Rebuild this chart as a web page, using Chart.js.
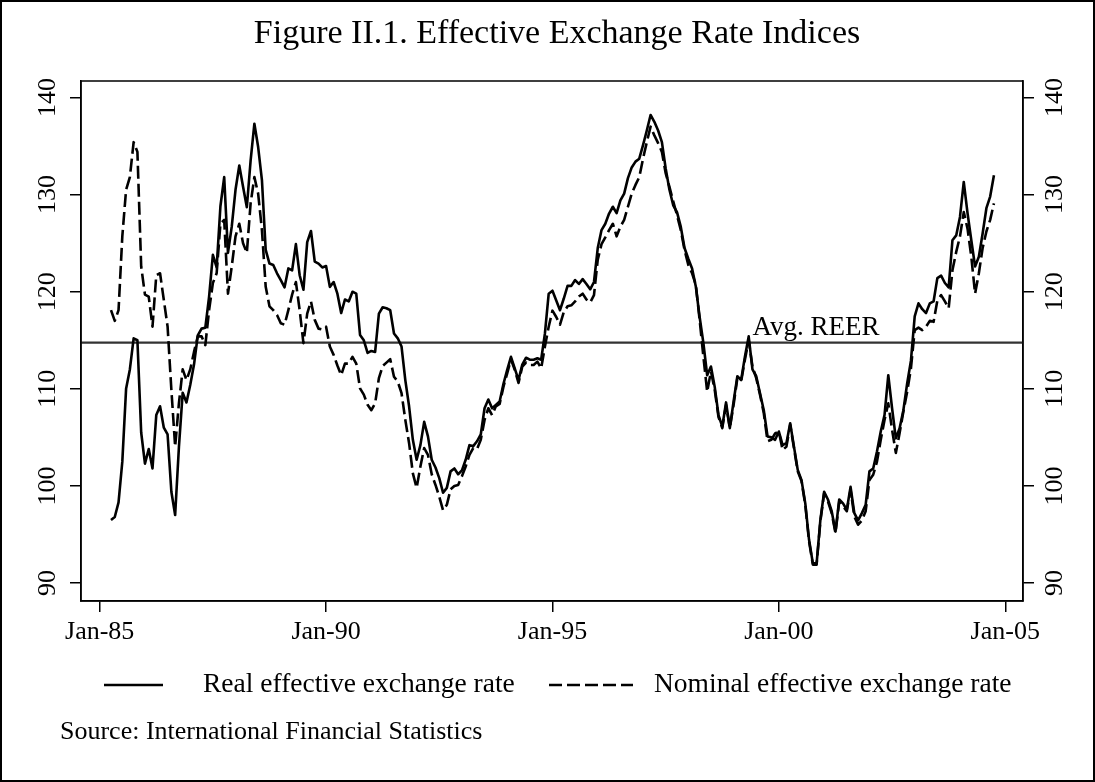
<!DOCTYPE html>
<html>
<head>
<meta charset="utf-8">
<title>Effective Exchange Rate Indices</title>
<script src="https://cdn.jsdelivr.net/npm/chart.js@4.4.0/dist/chart.umd.min.js"></script>
<style>
  html, body { margin: 0; padding: 0; background: #fff; }
  #wrap { width: 1095px; height: 782px; }
</style>
</head>
<body>
<div id="wrap"><canvas id="eerChart" width="1095" height="782"></canvas></div>
<script>
// months are counted from Jan-85 (0 = Jan-85), first observation is Apr-85
const firstMonth = 3;

// Real effective exchange rate, monthly (one row per year)
const realRate = [
  96.5, 96.8, 98.3, 102.5, 110.0, 112.0, 115.2, 115.0, 105.5,
  102.3, 103.8, 101.8, 107.3, 108.2, 106.0, 105.3, 99.4, 97.0, 104.0, 109.6, 108.6,
  110.4, 112.5, 115.5, 116.2, 116.3, 119.5, 123.8, 122.5, 128.8, 131.8, 124.0, 126.7,
  130.5, 133.0, 130.8, 128.7, 133.5, 137.3, 134.9, 131.5, 124.3, 122.9, 122.75, 121.9,
  121.2, 120.45, 122.4, 122.2, 124.9, 121.7, 120.2, 125.1, 126.25, 123.1, 122.9, 122.5,
  122.65, 120.5, 121.0, 119.8, 117.8, 119.2, 119.0, 120.0, 119.8, 115.55, 115.0, 113.7,
  113.9, 113.8, 117.75, 118.4, 118.3, 118.1, 115.7, 115.2, 114.35, 110.9, 108.2, 104.75,
  102.7, 104.2, 106.6, 105.1, 102.7, 101.9, 100.8, 99.3, 99.8, 101.5, 101.8, 101.2,
  101.6, 102.7, 104.2, 104.1, 104.6, 105.3, 108.0, 108.9, 108.0, 108.35, 108.7, 110.5,
  111.95, 113.3, 112.1, 110.9, 112.5, 113.2, 113.0, 113.0, 113.15, 113.0, 115.7, 119.8,
  120.1, 119.1, 118.1, 119.3, 120.6, 120.6, 121.2, 120.8, 121.3, 120.8, 120.25, 121.0,
  124.5, 126.35, 127.0, 128.05, 128.75, 128.1, 129.4, 130.1, 131.7, 132.8, 133.4, 133.7,
  135.1, 136.6, 138.2, 137.5, 136.6, 135.4, 132.7, 130.5, 128.9, 128.2, 126.7, 124.5,
  123.4, 122.4, 120.5, 117.4, 114.7, 111.4, 112.3, 110.2, 107.3, 106.1, 108.6, 105.95,
  108.7, 111.3, 110.9, 113.3, 115.4, 112.0, 111.3, 109.55, 107.8, 105.1, 105.0, 104.75,
  105.6, 104.2, 104.4, 106.45, 104.05, 101.65, 100.6, 98.2, 94.45, 92.05, 92.0, 96.5,
  99.4, 98.6, 97.4, 95.3, 98.6, 98.2, 97.55, 99.9, 97.2, 96.45, 97.2, 98.05,
  101.5, 101.8, 103.55, 105.6, 107.3, 111.4, 108.0, 104.9, 105.95, 107.8, 110.55, 112.9,
  117.45, 118.8, 118.2, 117.8, 118.8, 119.0, 121.4, 121.65, 120.9, 120.45, 125.3, 125.8,
  127.7, 131.3, 128.1, 125.3, 122.6, 123.6, 126.0, 128.6, 129.8, 132.0
];

// Nominal effective exchange rate, monthly (one row per year)
const nominalRate = [
  118.1, 117.0, 118.1, 125.7, 130.5, 131.8, 135.4, 134.4, 122.6,
  119.7, 119.5, 116.4, 121.7, 121.9, 119.15, 116.4, 109.9, 104.05, 108.5, 112.0, 110.9,
  112.0, 113.8, 115.4, 115.4, 114.5, 118.1, 120.9, 121.9, 127.0, 127.4, 119.8, 122.6,
  125.7, 127.0, 125.0, 124.0, 129.1, 131.8, 130.1, 126.35, 120.5, 118.5, 118.1, 117.6,
  116.75, 116.6, 118.1, 119.7, 121.0, 118.1, 114.7, 117.75, 119.0, 117.1, 116.2, 116.1,
  116.4, 114.35, 113.5, 112.4, 111.4, 112.6, 112.6, 113.3, 112.6, 110.05, 109.4, 108.35,
  107.8, 108.5, 111.1, 112.35, 112.7, 113.05, 111.25, 110.75, 109.55, 106.8, 104.4, 101.3,
  99.8, 102.0, 103.9, 103.2, 101.2, 100.1, 98.9, 97.5, 98.05, 99.65, 100.0, 100.1,
  101.0, 102.0, 103.2, 103.9, 103.8, 104.75, 106.8, 108.0, 107.3, 108.2, 108.45, 110.2,
  111.6, 113.05, 111.95, 110.6, 112.3, 112.7, 112.45, 112.45, 112.8, 112.1, 114.35, 116.4,
  118.05, 117.4, 116.6, 117.9, 118.5, 118.6, 119.0, 119.5, 119.8, 119.2, 118.9, 119.65,
  123.3, 124.9, 125.6, 126.35, 127.0, 125.7, 126.7, 127.4, 128.75, 130.1, 131.0, 131.8,
  133.7, 135.4, 137.0, 136.1, 135.3, 134.4, 132.2, 130.8, 129.3, 127.9, 126.35, 124.3,
  122.75, 121.9, 120.7, 117.1, 113.3, 109.7, 111.8, 109.9, 107.1, 105.95, 108.35, 105.95,
  108.35, 111.1, 110.75, 113.0, 115.0, 112.3, 111.1, 109.4, 107.5, 104.6, 104.75, 105.4,
  105.6, 103.7, 104.05, 106.3, 103.9, 101.5, 100.5, 98.05, 94.3, 91.9, 91.9, 96.35,
  99.25, 98.4, 97.2, 95.15, 98.4, 97.9, 97.4, 99.6, 96.85, 96.0, 96.45, 97.4,
  100.6, 101.15, 102.5, 104.75, 106.8, 108.5, 105.8, 103.4, 105.45, 107.65, 109.7, 112.1,
  116.05, 116.3, 116.05, 116.4, 117.0, 116.9, 119.1, 119.65, 119.0, 118.3, 122.2, 124.1,
  125.7, 128.2, 126.5, 123.6, 119.8, 121.9, 124.5, 126.2, 127.4, 129.1
];

const avgReer = 114.75;
const avgLabel = 'Avg. REER';
const avgLabelMonth = 173;

const xTickMonths = [0, 60, 120, 180, 240];
const xTickLabels = ['Jan-85', 'Jan-90', 'Jan-95', 'Jan-00', 'Jan-05'];
const yTicks = [90, 100, 110, 120, 130, 140];
const seriesNames = ['Real effective exchange rate', 'Nominal effective exchange rate'];
const titleText = 'Figure II.1. Effective Exchange Rate Indices';
const sourceText = 'Source: International Financial Statistics';

const X_MIN = -4.95, X_MAX = 244.7;
const Y_MIN = 88.15, Y_MAX = 141.7;
const SERIF = "'Liberation Serif', 'Times New Roman', serif";
const DASH = [13, 5];

const toPoints = arr => arr.map((v, i) => ({ x: firstMonth + i, y: v }));

// frame, avg label, legend, source note and outer border
const extras = {
  id: 'extras',
  afterDraw(chart) {
    const { ctx, chartArea: a, scales } = chart;
    ctx.save();
    ctx.strokeStyle = '#000';
    ctx.lineWidth = 1.5;
    ctx.strokeRect(a.left, a.top, a.right - a.left, a.bottom - a.top);

    ctx.fillStyle = '#000';
    ctx.textBaseline = 'alphabetic';
    ctx.font = `27px ${SERIF}`;
    ctx.fillText(avgLabel, scales.x.getPixelForValue(avgLabelMonth), scales.y.getPixelForValue(avgReer) - 8);

    // legend
    const ly = 685;
    ctx.lineWidth = 2.5;
    ctx.beginPath(); ctx.moveTo(104, ly); ctx.lineTo(163, ly); ctx.stroke();
    ctx.setLineDash(DASH);
    ctx.beginPath(); ctx.moveTo(549, ly); ctx.lineTo(633, ly); ctx.stroke();
    ctx.setLineDash([]);
    ctx.font = `27.5px ${SERIF}`;
    ctx.textBaseline = 'middle';
    ctx.fillText(seriesNames[0], 203, ly);
    ctx.fillText(seriesNames[1], 654, ly);

    ctx.font = `26px ${SERIF}`;
    ctx.fillText(sourceText, 60, 732);

    ctx.lineWidth = 2;
    ctx.strokeRect(1, 1, chart.width - 2, chart.height - 2);
    ctx.restore();
  }
};

const axisLook = {
  grid: { drawOnChartArea: false, drawTicks: true, tickLength: 11, color: '#000', lineWidth: 1.5 },
  border: { display: true, color: '#000', width: 1.5 }
};

function yAxis(position, width) {
  return {
    type: 'linear',
    position: position,
    min: Y_MIN,
    max: Y_MAX,
    afterBuildTicks: s => { s.ticks = yTicks.map(v => ({ value: v })); },
    afterFit: s => { s.width = width; },
    ...axisLook,
    ticks: {
      color: '#000',
      font: { family: SERIF, size: 26 },
      minRotation: 90,
      maxRotation: 90,
      crossAlign: 'center',
      padding: 2
    }
  };
}

new Chart(document.getElementById('eerChart'), {
  type: 'line',
  data: {
    datasets: [
      {
        label: seriesNames[0],
        data: toPoints(realRate),
        borderColor: '#000',
        borderWidth: 2.6,
        pointRadius: 0,
        borderJoinStyle: 'round'
      },
      {
        label: seriesNames[1],
        data: toPoints(nominalRate),
        borderColor: '#000',
        borderWidth: 2.6,
        borderDash: DASH,
        pointRadius: 0,
        borderJoinStyle: 'round'
      },
      {
        label: 'Avg. REER',
        data: [{ x: X_MIN, y: avgReer }, { x: X_MAX, y: avgReer }],
        borderColor: '#333',
        borderWidth: 2.2,
        pointRadius: 0
      }
    ]
  },
  options: {
    responsive: false,
    devicePixelRatio: 1,
    animation: false,
    layout: { padding: { left: 19, right: 0, top: 0, bottom: 131 } },
    plugins: {
      legend: { display: false },
      tooltip: { enabled: false },
      title: {
        display: true,
        text: titleText,
        color: '#000',
        font: { family: SERIF, size: 34, weight: 'normal' },
        padding: { top: 14, bottom: 26.2 }
      }
    },
    scales: {
      x: {
        type: 'linear',
        min: X_MIN,
        max: X_MAX,
        afterBuildTicks: s => { s.ticks = xTickMonths.map(v => ({ value: v })); },
        afterFit: s => { s.height = 50; },
        ...axisLook,
        ticks: {
          color: '#000',
          font: { family: SERIF, size: 26 },
          maxRotation: 0,
          autoSkip: false,
          padding: 5,
          callback: v => xTickLabels[xTickMonths.indexOf(v)]
        }
      },
      y: yAxis('left', 62),
      y2: yAxis('right', 72)
    }
  },
  plugins: [extras]
});
</script>
</body>
</html>
